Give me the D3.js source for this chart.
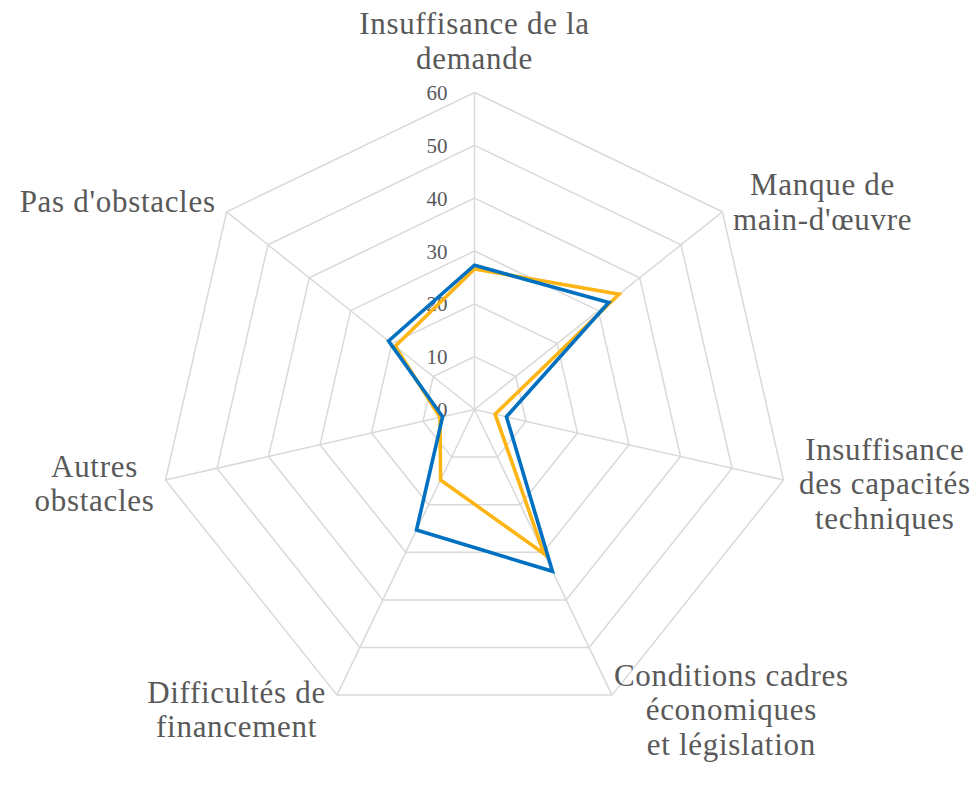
<!DOCTYPE html>
<html>
<head>
<meta charset="utf-8">
<script src="https://cdn.jsdelivr.net/npm/d3@7"></script>
<style>
  html, body { margin: 0; padding: 0; background: #ffffff; }
  svg { display: block; }
  text { font-family: "Liberation Serif", "Times New Roman", serif; fill: #595959; }
</style>
</head>
<body>
<svg id="chart" width="977" height="794"></svg>
<script>
// Axis categories, clockwise from the top
const categories = [
  ["Insuffisance de la", "demande"],
  ["Manque de", "main-d'œuvre"],
  ["Insuffisance", "des capacités", "techniques"],
  ["Conditions cadres", "économiques", "et législation"],
  ["Difficultés de", "financement"],
  ["Autres", "obstacles"],
  ["Pas d'obstacles"]
];
// Two series of shares (%)
const valuesBlue   = [27.3, 32.5, 6.2, 34.0, 25.3, 6.2, 20.8];
const valuesOrange = [26.6, 35.0, 4.0, 30.3, 14.8, 6.7, 19.2];
// Radial tick values
const ticks = [0, 10, 20, 30, 40, 50, 60];

const FONT = "Liberation Serif, Times New Roman, serif";
const svg = d3.select("#chart");
const cx = 474.5, cy = 409.5, R = 317;
const n = categories.length;

const r = d3.scaleLinear().domain([0, 60]).range([0, R]);
const angle = d3.scaleLinear().domain([0, n]).range([0, 2 * Math.PI]);

const g = svg.append("g").attr("transform", `translate(${cx},${cy})`);

const pt = (i, v) => {
  const a = angle(i);
  return [r(v) * Math.sin(a), -r(v) * Math.cos(a)];
};

// Polygonal grid rings
const ring = d3.line().curve(d3.curveLinearClosed);
g.selectAll("path.ring")
  .data(ticks.filter(t => t > 0))
  .join("path")
  .attr("class", "ring")
  .attr("d", t => ring(d3.range(n).map(i => pt(i, t))))
  .attr("fill", "none")
  .attr("stroke", "#d9d9d9")
  .attr("stroke-width", 1.5);

// Spokes
g.selectAll("line.spoke")
  .data(d3.range(n))
  .join("line")
  .attr("class", "spoke")
  .attr("x1", 0).attr("y1", 0)
  .attr("x2", i => pt(i, 60)[0])
  .attr("y2", i => pt(i, 60)[1])
  .attr("stroke", "#d9d9d9")
  .attr("stroke-width", 1.5);

// Tick labels along the vertical axis
g.selectAll("text.tick")
  .data(ticks)
  .join("text")
  .attr("class", "tick")
  .attr("font-family", FONT)
  .attr("x", -27)
  .attr("y", t => -r(t))
  .attr("dy", "0.36em")
  .attr("text-anchor", "end")
  .style("font-size", "21px")
  .text(t => t);

// Series polygons
const poly = d3.line().curve(d3.curveLinearClosed);
[[valuesOrange, "#FDB515"], [valuesBlue, "#0070C0"]].forEach(([vals, col]) => {
  g.append("path")
    .attr("d", poly(vals.map((v, i) => pt(i, v))))
    .attr("fill", "none")
    .attr("stroke", col)
    .attr("stroke-width", 3.6)
    .attr("stroke-linejoin", "miter");
});

// Category labels placed just outside each outer vertex
const lineH = 34.5;
categories.forEach((lines, i) => {
  const a = angle(i);
  const s = Math.sin(a), c = Math.cos(a);
  const [vx, vy] = pt(i, 60);
  const t = g.append("text")
    .attr("font-family", FONT)
    .attr("text-anchor", "middle")
    .style("font-size", "31px")
    .style("letter-spacing", "0.7px");
  lines.forEach((ln, k) => {
    t.append("tspan").attr("x", 0).attr("y", k * lineH).text(ln);
  });
  const bb = t.node().getBBox();
  let bx, by;
  if (Math.abs(s) < 0.1) {
    bx = vx;
    by = vy - 17 - (bb.y + bb.height);
  } else {
    const gap = s > 0 ? 25 * s - 9 : 11;
    bx = s > 0 ? vx + gap + bb.width / 2 : vx - gap - bb.width / 2;
    const midY = vy - c * 16;
    by = midY - (bb.y + bb.height / 2);
  }
  t.attr("transform", `translate(${bx},${by})`);
});
</script>
</body>
</html>
